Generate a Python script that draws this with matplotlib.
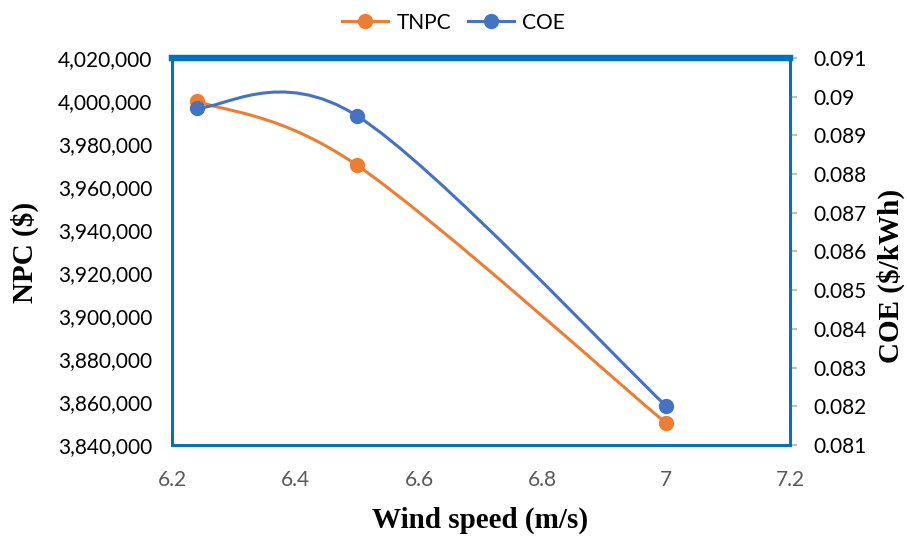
import numpy as np
import matplotlib.pyplot as plt
from matplotlib.path import Path
from matplotlib.patches import PathPatch

wind = [6.24, 6.5, 7.0]
tnpc = [4000000, 3970000, 3850000]
coe = [0.08971, 0.0895, 0.0820]

ORANGE = '#ED7D31'
BLUE = '#4472C4'
BORDER = '#0070C0'
TICK_FONT = ['Lato', 'DejaVu Sans']
LABEL_FONT = dict(fontfamily='Liberation Serif', fontweight='bold', fontsize=21)


def smooth_path(xs, ys):
    # Excel style smoothed line: cubic Bezier through points
    pts = np.column_stack([xs, ys]).astype(float)
    n = len(pts)
    verts = [pts[0]]
    codes = [Path.MOVETO]
    for i in range(n - 1):
        p0 = pts[i - 1] if i > 0 else pts[i]
        p1 = pts[i]
        p2 = pts[i + 1]
        p3 = pts[i + 2] if i + 2 < n else pts[i + 1]
        c1 = p1 + (p2 - p0) / 6
        c2 = p2 - (p3 - p1) / 6
        verts += [c1, c2, p2]
        codes += [Path.CURVE4] * 3
    return Path(verts, codes)


fig = plt.figure(figsize=(9.07, 5.36), dpi=100)
ax = fig.add_axes([0.1896, 0.1698, 0.6814, 0.722])
ax2 = ax.twinx()

ax.add_patch(PathPatch(smooth_path(wind, tnpc), fill=False, edgecolor=ORANGE, lw=2.2, zorder=3))
ax.plot(wind, tnpc, 'o', color=ORANGE, ms=10, zorder=4)
ax2.add_patch(PathPatch(smooth_path(wind, coe), fill=False, edgecolor=BLUE, lw=2.2, zorder=3))
ax2.plot(wind, coe, 'o', color=BLUE, ms=10, zorder=4)

ax.set_xlim(6.2, 7.2)
ax.set_ylim(3840000, 4020000)
ax2.set_ylim(0.081, 0.091)
ax.set_xticks(np.arange(6.2, 7.21, 0.2))
ax.set_xticklabels(['6.2', '6.4', '6.6', '6.8', '7', '7.2'])
ax.set_yticks(np.arange(3840000, 4020001, 20000))
ax.set_yticklabels([f'{v:,}' for v in range(3840000, 4020001, 20000)])
ax2.set_yticks(np.arange(0.081, 0.0911, 0.001))
ax2.set_yticklabels(['0.081', '0.082', '0.083', '0.084', '0.085', '0.086',
                     '0.087', '0.088', '0.089', '0.09', '0.091'])

for lab in ax.get_xticklabels():
    lab.set_family(TICK_FONT)
    lab.set_fontsize(15)
    lab.set_color('#595959')
for lab in ax.get_yticklabels() + ax2.get_yticklabels():
    lab.set_family(TICK_FONT)
    lab.set_fontsize(15)
    lab.set_color('black')

ax.tick_params(axis='x', length=0, pad=18)
ax.tick_params(axis='y', length=0, pad=14)
ax2.tick_params(axis='y', length=5, color='#BFBFBF', width=1.5, pad=12)

for a in (ax, ax2):
    for s in a.spines.values():
        s.set_color(BORDER)
        s.set_linewidth(2)
    a.spines['top'].set_linewidth(4.5)

fig.text(480 / 907, 1 - 520 / 536, 'Wind speed (m/s)', ha='center', va='center', **LABEL_FONT)
fig.text(25 / 907, 1 - 252 / 536, 'NPC ($)', ha='center', va='center', rotation=90, **LABEL_FONT)
fig.text(891 / 907, 1 - 276 / 536, 'COE ($/kWh)', ha='center', va='center', rotation=90, **LABEL_FONT)

h1 = plt.Line2D([], [], color=ORANGE, lw=2.2, marker='o', ms=10)
h2 = plt.Line2D([], [], color=BLUE, lw=2.2, marker='o', ms=10)
fig.legend([h1, h2], ['TNPC', 'COE'], loc='center', bbox_to_anchor=(0.5, 0.958), ncol=2,
           frameon=False, prop={'family': TICK_FONT, 'size': 15}, handlelength=2.2,
           columnspacing=0.8, handletextpad=0.4)

fig.savefig('out.png', dpi=100)
